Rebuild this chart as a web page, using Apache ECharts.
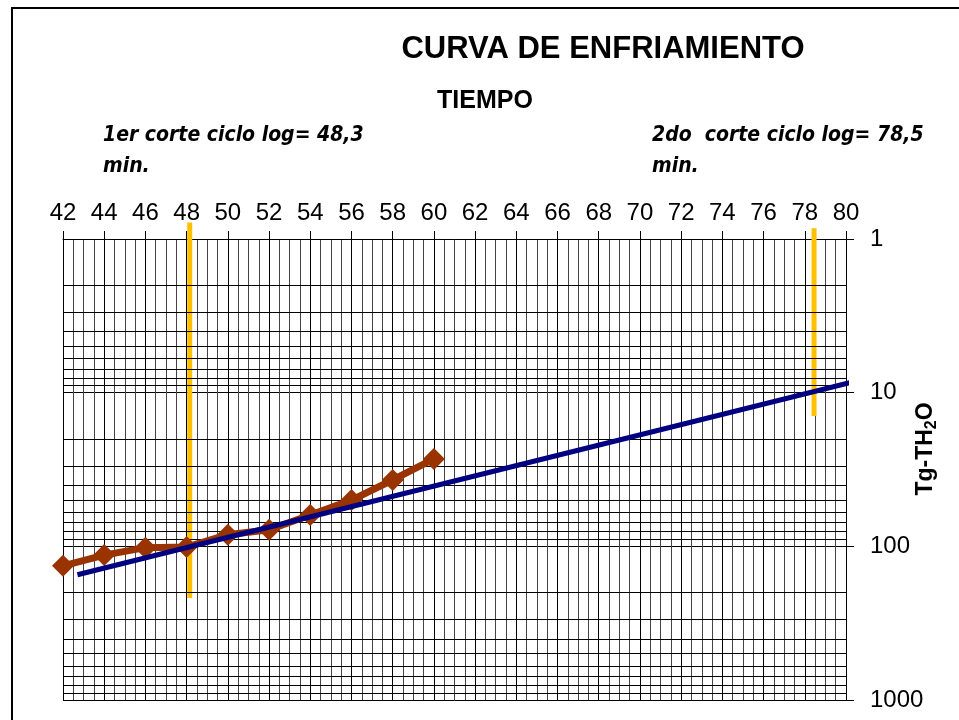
<!DOCTYPE html>
<html>
<head>
<meta charset="utf-8">
<title>Curva de enfriamiento</title>
<script src="https://cdn.jsdelivr.net/npm/echarts@6/dist/echarts.min.js"></script>
<style>
  html, body { margin: 0; padding: 0; background: #fff; }
  #main { width: 959px; height: 720px; }
</style>
</head>
<body>
<div id="main"></div>
<script>
// datos
var tiempos = [42, 44, 46, 48, 50, 52, 54, 56, 58, 60];
var tgTh2o = [134, 114, 102, 101, 84, 78, 62.5, 50, 37, 27];
// recta de ajuste (extremos)
var rectaX = [42.7, 80.5];
var rectaY = [153, 8.4];
// cortes de ciclo log
var corte1 = { x: 48.15, y: [0.78, 217] };
var corte2 = { x: 78.45, y: [0.85, 14.2] };
var decadas = [1, 10, 100];

var myChart = echarts.init(document.getElementById('main'));

// lineas menores del papel log (2..9 de cada decada)
var lineasLog = [];
decadas.forEach(function (d) {
	for (var k = 2; k <= 9; k++) {
		lineasLog.push({ yAxis: d * k });
	}
});

var fuente = 'Liberation Sans, Arial';

var option = {
	animation: false,
	grid: {
		left: 63,
		top: 239,
		width: 783,
		height: 461
	},
	title: [
		{
			text: 'CURVA DE ENFRIAMIENTO',
			left: 598,
			top: 29,
			textAlign: 'center',
			textStyle: { fontFamily: fuente, fontSize: 31, fontWeight: 'bold', color: '#000' }
		},
		{
			text: 'TIEMPO',
			left: 480,
			top: 84,
			textAlign: 'center',
			textStyle: { fontFamily: fuente, fontSize: 25, fontWeight: 'bold', color: '#000' }
		}
	],
	graphic: [
		{
			type: 'rect',
			shape: { x: 12, y: 8, width: 1000, height: 800 },
			style: { fill: 'none', stroke: '#000', lineWidth: 2 },
			silent: true
		},
		{
			type: 'text',
			left: 103, top: 120,
			style: {
				text: '1er corte ciclo log= 48,3\nmin.',
				font: 'italic bold 21px "Liberation Sans Narrow", "DejaVu Sans Condensed", sans-serif',
				lineHeight: 31,
				fill: '#000'
			}
		},
		{
			type: 'text',
			left: 652, top: 120,
			style: {
				text: '2do  corte ciclo log= 78,5\nmin.',
				font: 'italic bold 21px "Liberation Sans Narrow", "DejaVu Sans Condensed", sans-serif',
				lineHeight: 31,
				fill: '#000'
			}
		},
		{
			// titulo del eje Y, girado
			type: 'text',
			x: 926,
			y: 449,
			rotation: Math.PI / 2,
			style: {
				text: '{b|Tg-TH}{s|2}{b|O}',
				align: 'center',
				verticalAlign: 'middle',
				rich: {
					b: { fontFamily: fuente, fontSize: 23, fontWeight: 'bold', fill: '#000' },
					s: { fontFamily: fuente, fontSize: 16, fontWeight: 'bold', fill: '#000', padding: [11, 0, 0, 0] }
				}
			}
		}
	],
	xAxis: {
		type: 'value',
		position: 'top',
		min: 42,
		max: 80,
		interval: 2,
		axisLine: { show: true, lineStyle: { color: '#000', width: 1 } },
		axisTick: { show: true, length: 8, lineStyle: { color: '#000' } },
		axisLabel: {
			margin: 14,
			fontFamily: fuente,
			fontSize: 24,
			color: '#000'
		},
		splitLine: { show: true, lineStyle: { color: '#000', width: 1 } },
		minorTick: { show: false, splitNumber: 4 },
		minorSplitLine: { show: true, lineStyle: { color: '#444', width: 1 } }
	},
	yAxis: {
		type: 'log',
		logBase: 10,
		min: 1,
		max: 1000,
		inverse: true,
		position: 'right',
		axisLine: { show: true, lineStyle: { color: '#000', width: 1 } },
		axisTick: { show: true, length: 8, lineStyle: { color: '#000' } },
		axisLabel: {
			margin: 24,
			fontFamily: fuente,
			fontSize: 24,
			color: '#000',
			formatter: function (v) { return String(Math.round(v)); }
		},
		splitLine: { show: true, lineStyle: { color: '#000', width: 1 } }
	},
	series: [
		{
			// papel semilog
			name: 'rejilla',
			type: 'line',
			data: [],
			silent: true,
			markLine: {
				silent: true,
				symbol: ['none', 'none'],
				label: { show: false },
				lineStyle: { color: '#000', width: 1, type: 'solid' },
				data: lineasLog
			}
		},
		{
			name: 'Corte 1',
			type: 'line',
			clip: false,
			symbol: 'none',
			lineStyle: { color: '#FFC000', width: 5 },
			data: corte1.y.map(function (v) { return [corte1.x, v]; }),
			z: 4
		},
		{
			name: 'Corte 2',
			type: 'line',
			clip: false,
			symbol: 'none',
			lineStyle: { color: '#FFC000', width: 5 },
			data: corte2.y.map(function (v) { return [corte2.x, v]; }),
			z: 4
		},
		{
			name: 'Tg-TH2O',
			type: 'line',
			symbol: 'diamond',
			symbolSize: 22,
			itemStyle: { color: '#993300' },
			lineStyle: { color: '#993300', width: 7 },
			data: tiempos.map(function (t, i) { return [t, tgTh2o[i]]; }),
			z: 5
		},
		{
			name: 'Recta',
			type: 'line',
			clip: false,
			symbol: 'none',
			lineStyle: { color: '#000080', width: 5 },
			data: rectaX.map(function (t, i) { return [t, rectaY[i]]; }),
			z: 6
		}
	]
};

myChart.setOption(option);
</script>
</body>
</html>
